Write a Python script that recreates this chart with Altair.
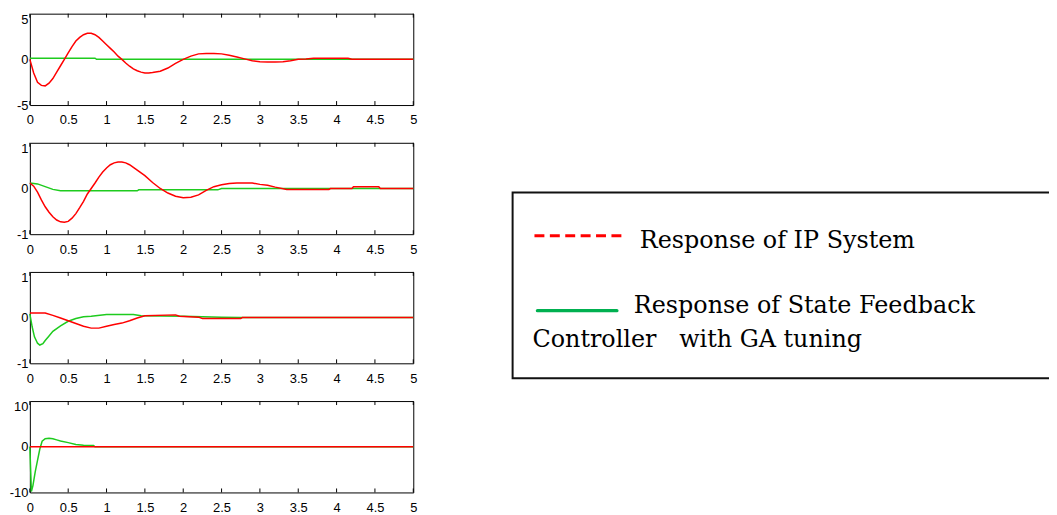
import altair as alt
import pandas as pd

# ---------------- data ----------------
x_ticks = [0, 0.5, 1, 1.5, 2, 2.5, 3, 3.5, 4, 4.5, 5]

p1_red_t = [0, 0.05, 0.1, 0.15, 0.2, 0.25, 0.3, 0.35, 0.4, 0.45, 0.5, 0.55, 0.6, 0.65, 0.7,
            0.75, 0.8, 0.85, 0.9, 0.95, 1.0, 1.05, 1.1, 1.15, 1.2, 1.25, 1.3, 1.35, 1.4, 1.45,
            1.5, 1.55, 1.6, 1.7, 1.8, 1.9, 2.0, 2.1, 2.2, 2.3, 2.4, 2.5, 2.6, 2.7, 2.8, 2.9,
            3.0, 3.1, 3.2, 3.3, 3.4, 3.5, 3.6, 3.7, 4.15, 4.2, 5.0]
p1_red_v = [0, -1.5, -2.5, -2.85, -2.9, -2.6, -2.1, -1.4, -0.7, 0, 0.7, 1.4, 2.0, 2.4, 2.7,
            2.85, 2.85, 2.7, 2.4, 2.0, 1.6, 1.2, 0.8, 0.35, 0, -0.4, -0.75, -1.05, -1.25, -1.4,
            -1.5, -1.5, -1.45, -1.3, -0.95, -0.45, 0, 0.35, 0.6, 0.65, 0.65, 0.6, 0.45, 0.25, 0.05, -0.15,
            -0.25, -0.28, -0.28, -0.25, -0.15, 0, 0.05, 0.12, 0.12, 0.02, 0]
p1_green_t = [0, 0.85, 0.87, 5.0]
p1_green_v = [0.12, 0.12, 0.0, 0.0]

p2_red_t = [0, 0.05, 0.1, 0.15, 0.2, 0.25, 0.3, 0.35, 0.4, 0.45, 0.5, 0.55, 0.6, 0.65, 0.7,
            0.75, 0.8, 0.85, 0.9, 0.95, 1.0, 1.05, 1.1, 1.15, 1.2, 1.25, 1.3, 1.4, 1.5, 1.6,
            1.7, 1.8, 1.9, 2.0, 2.1, 2.2, 2.3, 2.4, 2.5, 2.6, 2.7, 2.9, 3.0, 3.1, 3.2, 3.35,
            3.9, 3.92, 4.2, 4.22, 4.55, 4.57, 5.0]
p2_red_v = [0.12, 0.05, -0.08, -0.25, -0.4, -0.52, -0.62, -0.69, -0.73, -0.74, -0.72, -0.65, -0.55, -0.42, -0.28,
            -0.12, 0, 0.12, 0.25, 0.36, 0.45, 0.52, 0.56, 0.58, 0.58, 0.56, 0.52, 0.4, 0.28, 0.13,
            0, -0.1, -0.17, -0.2, -0.19, -0.14, -0.04, 0.04, 0.08, 0.11, 0.12, 0.12, 0.09, 0.07, 0.03, -0.02,
            -0.02, 0, 0, 0.04, 0.04, 0, 0]
p2_green_t = [0, 0.1, 0.2, 0.3, 0.4, 1.4, 1.42, 2.45, 2.5, 5.0]
p2_green_v = [0.12, 0.1, 0.04, -0.02, -0.05, -0.05, -0.03, -0.03, 0.0, 0.0]

p3_red_t = [0, 0.2, 0.3, 0.4, 0.5, 0.6, 0.7, 0.8, 0.9, 1.0, 1.1, 1.2, 1.3, 1.4, 1.5, 1.9,
            1.95, 2.2, 2.25, 2.75, 2.77, 5.0]
p3_red_v = [0.1, 0.1, 0.05, -0.01, -0.07, -0.13, -0.19, -0.23, -0.23, -0.19, -0.15, -0.12, -0.07, -0.01, 0.04, 0.06,
            0.03, 0.01, -0.02, -0.02, 0, 0]
p3_green_t = [0, 0.03, 0.06, 0.1, 0.13, 0.17, 0.2, 0.25, 0.3, 0.4, 0.5, 0.6, 0.7, 0.8, 1.0, 1.35,
              1.45, 2.0, 2.5, 2.75, 5.0]
p3_green_v = [0.08, -0.2, -0.42, -0.56, -0.6, -0.57, -0.5, -0.4, -0.3, -0.18, -0.08, -0.02, 0.02, 0.03, 0.07, 0.07,
              0.04, 0.03, 0.01, 0, 0]

p4_red_t = [0, 5.0]
p4_red_v = [0, 0]
p4_green_t = [0, 0.02, 0.04, 0.07, 0.1, 0.13, 0.16, 0.2, 0.25, 0.3, 0.35, 0.4, 0.5, 0.6, 0.7, 0.83, 0.85, 5.0]
p4_green_v = [0, -9.8, -8.5, -5.5, -3.0, -0.5, 1.2, 1.75, 1.85, 1.75, 1.5, 1.25, 0.9, 0.5, 0.35, 0.3, 0, 0]

y_domains = [[-5, 5], [-1, 1], [-1, 1], [-10, 10]]
y_ticks = [[-5, 0, 5], [-1, 0, 1], [-1, 0, 1], [-10, 0, 10]]

legend_labels = ["Response of IP System", "Response of State Feedback",
                 "Controller\u00a0\u00a0 with GA tuning"]

# ---------------- styling ----------------
W, H = 386, 92
TICK = 4
AXFONT = "Liberation Sans Narrow, Arial Narrow, Liberation Sans, sans-serif"
LEGFONT = "DejaVu Serif, Liberation Serif, serif"
RED = "#ff0000"
GREEN = "#1ecb1e"
LABEL_EXPR = "'' + datum.value"


def make_panel(red_t, red_v, green_t, green_v, ydom, yticks):
    xs = alt.Scale(domain=[0, 5], nice=False, zero=False)
    ys = alt.Scale(domain=ydom, nice=False, zero=False)
    x_axis = alt.Axis(values=x_ticks, labelExpr=LABEL_EXPR, labelFlush=False)
    y_axis = alt.Axis(values=yticks, labelExpr=LABEL_EXPR,
                      labelBaseline={"condition": {"test": "datum.value > 0", "value": "top"},
                                     "value": "middle"})
    tick_df = pd.DataFrame({"t": x_ticks})
    red_df = pd.DataFrame({"t": red_t, "v": red_v})
    green_df = pd.DataFrame({"t": green_t, "v": green_v})

    top = alt.Chart(tick_df).mark_rule(color="black", strokeWidth=1).encode(
        x=alt.X("t:Q", scale=xs, title=None, axis=x_axis), y=alt.value(0), y2=alt.value(TICK))
    bottom = alt.Chart(tick_df).mark_rule(color="black", strokeWidth=1).encode(
        x=alt.X("t:Q", scale=xs, title=None, axis=x_axis), y=alt.value(H), y2=alt.value(H - TICK))
    green = alt.Chart(green_df).mark_line(color=GREEN, strokeWidth=1.5).encode(
        x=alt.X("t:Q", scale=xs, title=None, axis=x_axis),
        y=alt.Y("v:Q", scale=ys, title=None, axis=y_axis),
        order="t:Q")
    red = alt.Chart(red_df).mark_line(color=RED, strokeWidth=1.5).encode(
        x=alt.X("t:Q", scale=xs, title=None, axis=x_axis),
        y=alt.Y("v:Q", scale=ys, title=None, axis=y_axis),
        order="t:Q")
    return alt.layer(top, bottom, green, red).properties(width=W, height=H)


panels = alt.vconcat(
    make_panel(p1_red_t, p1_red_v, p1_green_t, p1_green_v, y_domains[0], y_ticks[0]),
    make_panel(p2_red_t, p2_red_v, p2_green_t, p2_green_v, y_domains[1], y_ticks[1]),
    make_panel(p3_red_t, p3_red_v, p3_green_t, p3_green_v, y_domains[2], y_ticks[2]),
    make_panel(p4_red_t, p4_red_v, p4_green_t, p4_green_v, y_domains[3], y_ticks[3]),
    spacing=14,
)

# ---------------- legend box ----------------
LW, LH = 543, 470
TOP = 11  # page y of the legend view's top (approx)
LX = 510  # page x of the legend view's left


def ly(page_y):
    return page_y - TOP


def lx(page_x):
    return page_x - LX


one = pd.DataFrame({"k": [0]})
box = alt.Chart(one).mark_rect(fillOpacity=0, stroke="#111111", strokeWidth=2, clip=True).encode(
    x=alt.value(lx(513)), x2=alt.value(LW + 10), y=alt.value(ly(191)), y2=alt.value(ly(378)))
red_key = alt.Chart(one).mark_rule(color=RED, strokeWidth=3, strokeDash=[10, 5.5]).encode(
    x=alt.value(lx(535)), x2=alt.value(lx(627)), y=alt.value(ly(234.5)))
green_key = alt.Chart(one).mark_rule(color="#00b050", strokeWidth=3.3, strokeCap="round").encode(
    x=alt.value(lx(538)), x2=alt.value(lx(618)), y=alt.value(ly(310)))

texts = []
for lab, px, py in [(legend_labels[0], 641, 247), (legend_labels[1], 635, 312.5),
                    (legend_labels[2], 533, 347)]:
    texts.append(alt.Chart(pd.DataFrame({"label": [lab]})).mark_text(
        font=LEGFONT, fontSize=24, align="left", baseline="alphabetic", color="black").encode(
        text="label:N", x=alt.value(lx(px)), y=alt.value(ly(py))))

legend = alt.layer(box, red_key, green_key, *texts).properties(
    width=LW, height=LH, view=alt.ViewBackground(strokeOpacity=0))

chart = alt.hconcat(panels, legend, spacing=92).properties(
    padding={"left": 0, "top": 3, "right": 0, "bottom": -3}
).configure_view(stroke="black", strokeWidth=1).configure_axis(
    labelFont=AXFONT, labelFontSize=13, labelColor="black", domain=False, ticks=False, grid=False
).configure_axisX(labelPadding=9).configure_axisY(labelPadding=2)

chart.save("out.html", embed_options={"renderer": "svg", "actions": False})
